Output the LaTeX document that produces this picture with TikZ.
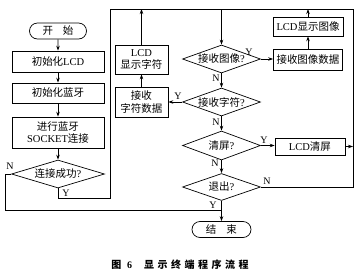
\documentclass[tikz,border=0pt]{standalone}
\usepackage{fontspec}
\setmainfont{Liberation Serif}
\newfontfamily\cjk{Noto Sans CJK SC}
\usetikzlibrary{shapes.geometric,shapes.misc,arrows.meta}
\newcommand\zh[1]{{\cjk #1}}
\newcommand\cs{\hspace{3.5pt}}
\begin{document}
\begin{tikzpicture}[x=1pt,y=-1pt,
 every node/.style={font=\fontsize{10.5}{12.5}\selectfont, inner sep=1pt},
 box/.style={draw, line width=0.7pt, align=center},
 dec/.style={draw, diamond, aspect=2.8, inner sep=0pt, line width=0.7pt},
 term/.style={draw, rounded rectangle, line width=0.7pt, inner sep=0pt},
 lab/.style={font=\fontsize{10}{10}\selectfont, inner sep=0pt},
 line/.style={line width=0.7pt},
 arr/.style={line, -{Stealth[length=5pt,width=3.5pt]}}]
\useasboundingbox (0,0) rectangle (360,274);
% left column
\node[term, minimum width=57pt, minimum height=16pt] (start) at (58,31) {\zh{开\hspace{10pt}始}};
\node[box, minimum width=92pt, minimum height=21pt] (lcd) at (58,61.5) {\zh{初始化}LCD};
\node[box, minimum width=92pt, minimum height=20pt] (bt) at (58,93) {\zh{初始化蓝牙}};
\node[box, minimum width=92pt, minimum height=31pt] (sock) at (58,132.5) {\zh{进行蓝牙}\\SOCKET\zh{连接}};
\node[dec, minimum width=93pt, minimum height=28pt] (conn) at (58,174) {\zh{连接成功}?};
% middle column
\node[box, minimum width=53pt, minimum height=29pt] (chrshow) at (141.5,59.5) {LCD\\\zh{显示字符}};
\node[box, minimum width=53pt, minimum height=30pt] (chrdata) at (141.5,102) {\zh{接收}\\\zh{字符数据}};
\node[dec, minimum width=78pt, minimum height=28pt] (recvimg) at (221.5,59) {\zh{接收图像}?};
\node[dec, minimum width=78pt, minimum height=28pt] (recvchr) at (221.5,102) {\zh{接收字符}?};
\node[dec, minimum width=78pt, minimum height=29pt] (cls) at (221.5,145.5) {\zh{清屏}?};
\node[dec, minimum width=78pt, minimum height=27pt] (quit) at (221.5,187) {\zh{退出}?};
\node[term, minimum width=59pt, minimum height=16pt] (end) at (221.5,229.5) {\zh{结\hspace{10pt}束}};
% right column
\node[box, minimum width=70pt, minimum height=19pt] (imgshow) at (308,26.5) {LCD\zh{显示图像}};
\node[box, minimum width=69pt, minimum height=21pt] (imgdata) at (308,59.5) {\zh{接收图像数据}};
\node[box, minimum width=70pt, minimum height=17pt] (lcdcls) at (310,146.5) {LCD\zh{清屏}};
% coordinates
\coordinate (topL) at (110,9);
\coordinate (topR) at (353,9);
\coordinate (loopL) at (110,198);
\coordinate (join) at (221.5,210);
% connectors
\draw[arr] (start) -- (lcd);
\draw[arr] (lcd) -- (bt);
\draw[arr] (bt) -- (sock);
\draw[arr] (sock) -- (conn);
\draw[line] (conn.west) -- ++(-6,0) |- (join);
\draw[line] (conn.south) |- (loopL) -- (topL) -- (topR) |- (quit.east);
\draw[arr] (recvimg.north |- topL) -- (recvimg.north);
\draw[arr] (recvimg.east) -- (recvimg.east -| imgdata.west);
\draw[arr] (imgdata) -- (imgshow);
\draw[arr] (imgshow.north) -- (imgshow.north |- topL);
\draw[arr] (recvimg.south) -- (recvchr.north);
\draw[arr] (recvchr.west) -- (recvchr.west -| chrdata.east);
\draw[arr] (chrdata) -- (chrshow);
\draw[arr] (chrshow.north) -- (chrshow.north |- topL);
\draw[arr] (recvchr.south) -- (cls.north);
\draw[arr] (cls.east) -- (cls.east -| lcdcls.west);
\draw[arr] (lcdcls.east) -- (lcdcls.east -| topR);
\draw[arr] (cls.south) -- (quit.north);
\draw[arr] (quit.south) -- (end.north);
% labels
\node[lab] (l1) at (10,166) {N};
\node[lab] (l2) at (66,193) {Y};
\node[lab] (l3) at (249,52) {Y};
\node[lab] (l4) at (216,78) {N};
\node[lab] (l5) at (178,96) {Y};
\node[lab] (l6) at (216,122) {N};
\node[lab] (l7) at (264,140) {Y};
\node[lab] (l8) at (215,163) {N};
\node[lab] (l9) at (267,181) {N};
\node[lab] (l10) at (213,205) {Y};
% caption
\node[font=\fontsize{10}{12}\selectfont\bfseries] (cap) at (180,265) {\zh{图}\hspace{6pt}6\hspace{12pt}\zh{显\cs 示\cs 终\cs 端\cs 程\cs 序\cs 流\cs 程}};
\end{tikzpicture}
\end{document}
